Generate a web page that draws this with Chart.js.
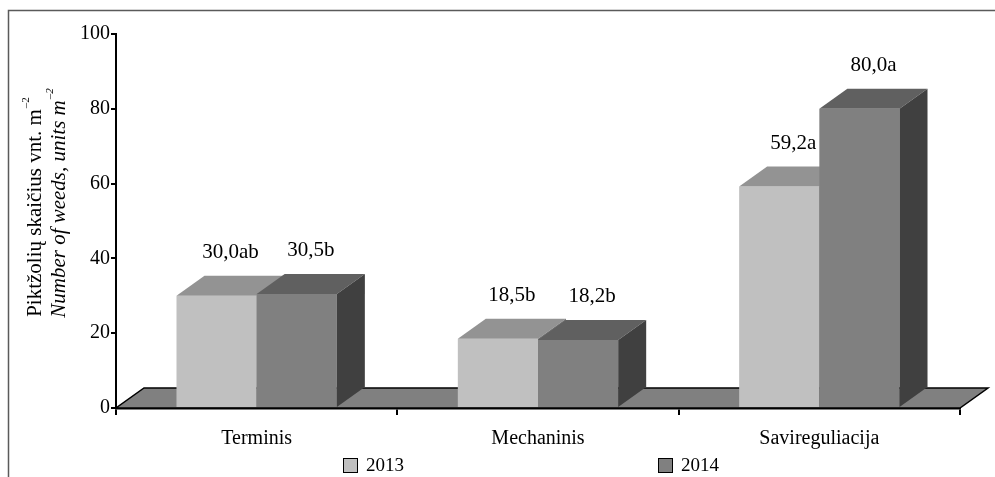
<!DOCTYPE html>
<html lang="lt">

<head>
    <meta charset="UTF-8" />
    <title>Piktžolių skaičius</title>
    <script src="https://cdn.jsdelivr.net/npm/chart.js"></script>
    <style>
        body { margin: 0; background: #fff; }
    </style>
</head>

<body>
    <canvas id="weedChart" width="995" height="477"></canvas>

    <script>
        const categories = ['Terminis', 'Mechaninis', 'Savireguliacija'];
        const years = ['2013', '2014'];
        const weeds2013 = [30.0, 18.5, 59.2];
        const weeds2014 = [30.5, 18.2, 80.0];
        const letters2013 = ['ab', 'b', 'a'];
        const letters2014 = ['b', 'b', 'a'];

        // front / top / side shades of each box
        const shades = [
            { front: '#c0c0c0', top: '#939393', side: '#707070' },
            { front: '#808080', top: '#606060', side: '#404040' }
        ];
        const letters = [letters2013, letters2014];

        const depth = { dx: 28, dy: 20 };
        const serif = 'Liberation Serif';

        function box(ctx, x0, x1, top, base, c) {
            const { dx, dy } = depth;
            ctx.fillStyle = c.front;
            ctx.fillRect(x0, top, x1 - x0, base - top);

            ctx.fillStyle = c.top;
            ctx.beginPath();
            ctx.moveTo(x0, top);
            ctx.lineTo(x1, top);
            ctx.lineTo(x1 + dx, top - dy);
            ctx.lineTo(x0 + dx, top - dy);
            ctx.closePath();
            ctx.fill();

            ctx.fillStyle = c.side;
            ctx.beginPath();
            ctx.moveTo(x1, top);
            ctx.lineTo(x1 + dx, top - dy);
            ctx.lineTo(x1 + dx, base - dy);
            ctx.lineTo(x1, base);
            ctx.closePath();
            ctx.fill();
        }

        function rotatedTitle(ctx, main, sup, font, cx, cy) {
            ctx.save();
            ctx.translate(cx, cy);
            ctx.rotate(-Math.PI / 2);
            ctx.fillStyle = '#000';
            ctx.textBaseline = 'middle';
            ctx.textAlign = 'left';
            const supFont = font.replace('21px', '11px');
            ctx.font = font;
            const w1 = ctx.measureText(main).width;
            ctx.font = supFont;
            const w2 = ctx.measureText(sup).width;
            const start = -(w1 + w2 + 1) / 2;
            ctx.font = font;
            ctx.fillText(main, start, 0);
            ctx.font = supFont;
            ctx.fillText(sup, start + w1 + 1, -9);
            ctx.restore();
        }

        const box3d = {
            id: 'box3d',
            beforeDatasetsDraw(chart) {
                const { ctx, chartArea: a } = chart;
                const { dx, dy } = depth;
                ctx.save();
                ctx.beginPath();
                ctx.moveTo(a.left, a.bottom);
                ctx.lineTo(a.right, a.bottom);
                ctx.lineTo(a.right + dx, a.bottom - dy);
                ctx.lineTo(a.left + dx, a.bottom - dy);
                ctx.closePath();
                ctx.fillStyle = '#808080';
                ctx.fill();
                ctx.strokeStyle = '#000';
                ctx.lineWidth = 1.5;
                ctx.stroke();
                ctx.restore();
            },
            afterDatasetsDraw(chart) {
                const ctx = chart.ctx;
                ctx.save();
                chart.data.datasets.forEach((ds, i) => {
                    chart.getDatasetMeta(i).data.forEach(bar => {
                        const { x, y, base, width } = bar.getProps(['x', 'y', 'base', 'width'], true);
                        box(ctx, x - width / 2, x + width / 2, y, base, shades[i]);
                    });
                });

                // value labels above the boxes
                ctx.fillStyle = '#000';
                ctx.font = '21px ' + serif;
                ctx.textAlign = 'center';
                ctx.textBaseline = 'middle';
                chart.data.datasets.forEach((ds, i) => {
                    chart.getDatasetMeta(i).data.forEach((bar, j) => {
                        const txt = ds.data[j].toFixed(1).replace('.', ',') + letters[i][j];
                        ctx.fillText(txt, bar.x + 14, bar.y - depth.dy - 23);
                    });
                });
                ctx.restore();
            },
            afterDraw(chart) {
                const ctx = chart.ctx;
                ctx.save();

                // frame
                ctx.strokeStyle = '#5a5a5a';
                ctx.lineWidth = 1.5;
                ctx.beginPath();
                ctx.moveTo(995, 10.5);
                ctx.lineTo(8.5, 10.5);
                ctx.lineTo(8.5, 477);
                ctx.stroke();

                // y axis title, two languages
                rotatedTitle(ctx, 'Piktžolių skaičius vnt. m', '–2', '21px ' + serif, 35, 207);
                rotatedTitle(ctx, 'Number of weeds, units m', '–2', 'italic 21px ' + serif, 59, 203);

                // legend
                const legendX = [343, 658];
                ctx.font = '19px ' + serif;
                ctx.textBaseline = 'middle';
                ctx.textAlign = 'left';
                chart.data.datasets.forEach((ds, i) => {
                    const lx = legendX[i];
                    ctx.fillStyle = shades[i].front;
                    ctx.fillRect(lx + 0.5, 458.5, 14, 14);
                    ctx.strokeStyle = '#000';
                    ctx.lineWidth = 1;
                    ctx.strokeRect(lx + 0.5, 458.5, 14, 14);
                    ctx.fillStyle = '#000';
                    ctx.fillText(ds.label, lx + 23, 466);
                });
                ctx.restore();
            }
        };

        new Chart(document.getElementById('weedChart'), {
            type: 'bar',
            data: {
                labels: categories,
                datasets: [
                    { label: years[0], data: weeds2013, backgroundColor: 'rgba(0,0,0,0)' },
                    { label: years[1], data: weeds2014, backgroundColor: 'rgba(0,0,0,0)' }
                ]
            },
            options: {
                responsive: false,
                animation: false,
                devicePixelRatio: 1,
                categoryPercentage: 0.57,
                barPercentage: 1,
                layout: { padding: { top: 34, right: 35, bottom: 0, left: 0 } },
                plugins: {
                    legend: { display: false },
                    tooltip: { enabled: false }
                },
                scales: {
                    x: {
                        z: 1,
                        grid: { offset: true, drawOnChartArea: false, tickLength: 7, color: '#000', lineWidth: 2 },
                        border: { display: true, color: '#000', width: 2.5 },
                        ticks: { font: { family: serif, size: 20 }, color: '#000', padding: 12 },
                        afterFit: s => { s.height = 69; }
                    },
                    y: {
                        z: 1,
                        min: 0,
                        max: 100,
                        ticks: { stepSize: 20, font: { family: serif, size: 20 }, color: '#000', padding: 1 },
                        grid: { drawOnChartArea: false, tickLength: 5, color: '#000', lineWidth: 2 },
                        border: { display: true, color: '#000', width: 2 },
                        afterFit: s => { s.width = 116; }
                    }
                }
            },
            plugins: [box3d]
        });
    </script>
</body>

</html>
